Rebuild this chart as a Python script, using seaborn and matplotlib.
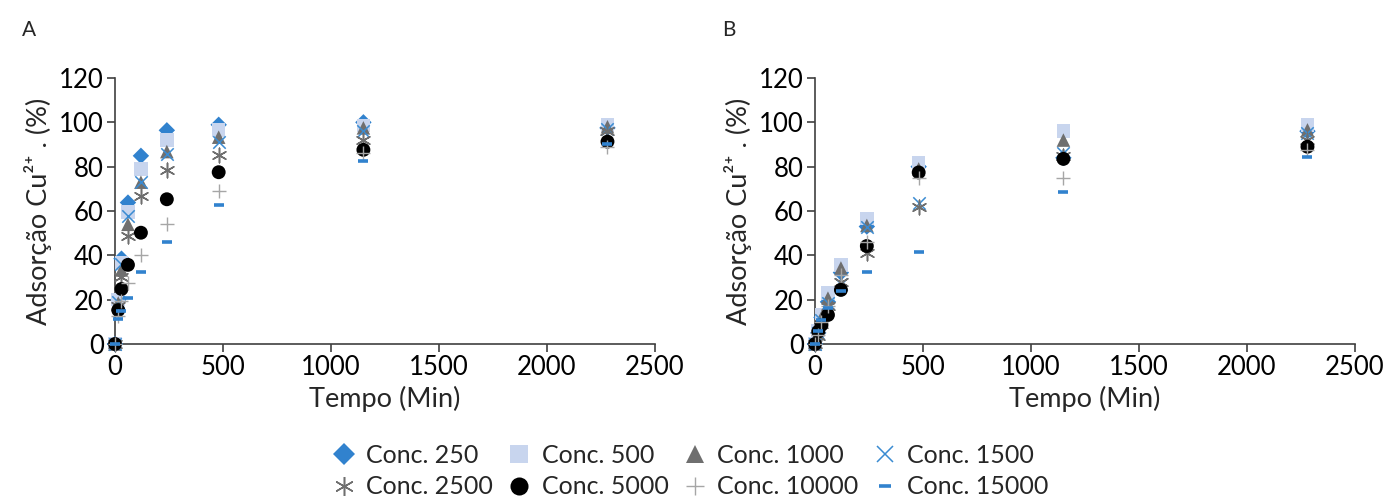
import numpy as np
import pandas as pd
import matplotlib
matplotlib.use('Agg')
import matplotlib.pyplot as plt
import seaborn as sns

# Tempo de contato (min)
tempo = [0, 15, 30, 60, 120, 240, 480, 1150, 2280]

conc_labels = ['Conc. 250', 'Conc. 500', 'Conc. 1000', 'Conc. 1500',
               'Conc. 2500', 'Conc. 5000', 'Conc. 10000', 'Conc. 15000']

# Panel A - adsorcao (%)
a_250 = [0, 20, 38.5, 63.8, 84.9, 96.4, 98.9, 100, 97.5]
a_500 = [0, 20, 36.5, 59.5, 79, 92, 96.6, 98.5, 98.9]
a_1000 = [0, 18.5, 33.4, 54, 73, 86.8, 93.3, 97.5, 98]
a_1500 = [0, 19, 36, 57.6, 73.3, 85.6, 91, 96, 97]
a_2500 = [0, 17, 30.4, 48.5, 66.7, 78.5, 85.3, 92, 96]
a_5000 = [0, 15.3, 24.8, 35.7, 50.2, 65.3, 77.5, 87.6, 91.3]
a_10000 = [0, 12.6, 19.5, 27.7, 40, 54, 68.8, 86, 89]
a_15000 = [0, 11.3, 15, 20.8, 32.5, 45.9, 62.6, 82.5, 90]

# Panel B - adsorcao (%)
b_250 = [0, 5, 12, 19, 32.2, 53, 80, 84, 96]
b_500 = [0, 6, 13, 22.9, 35.7, 56.7, 81.6, 96, 98.9]
b_1000 = [0, 5, 12, 20.7, 34.3, 53.5, 79, 92, 96.6]
b_1500 = [0, 5, 11, 18.5, 27, 53, 63.5, 86, 95]
b_2500 = [0, 3.5, 9, 17, 28, 41.2, 62, 85, 92]
b_5000 = [0, 5.6, 8.6, 13.1, 24.4, 44.2, 77.4, 83.5, 89]
b_10000 = [0, 4, 10, 17, 31, 46.2, 74.8, 75, 87.6]
b_15000 = [0, 6, 10.8, 16.1, 24, 32.6, 41.4, 68.6, 84.3]

panel_a = [a_250, a_500, a_1000, a_1500, a_2500, a_5000, a_10000, a_15000]
panel_b = [b_250, b_500, b_1000, b_1500, b_2500, b_5000, b_10000, b_15000]

# marker styles per series: (marker, color, size, filled, linewidth)
styles = [
    ('D', '#3182CE', 70, True, 0),
    ('s', '#C8D5EE', 95, True, 0),
    ('^', '#6F6F6F', 95, True, 0),
    ('x', '#3A8BD2', 80, False, 1.1),
    ((6, 2, 0), '#6F6F6F', 110, False, 1.1),
    ('o', '#000000', 100, True, 0),
    ('+', '#A6A6A6', 90, False, 1.0),
    ('_', '#3182CE', 45, False, 2.6),
]

sns.set_style('ticks')
plt.rcParams['font.family'] = ['Lato', 'DejaVu Sans']

fig = plt.figure(figsize=(13.89, 5.01), dpi=100)
ax_a = fig.add_axes([115 / 1389, 157 / 501, 540 / 1389, 266 / 501])
ax_b = fig.add_axes([815 / 1389, 157 / 501, 540 / 1389, 266 / 501])

for ax, panel in [(ax_a, panel_a), (ax_b, panel_b)]:
    for i, vals in enumerate(panel):
        m, c, s, filled, lw = styles[i]
        df = pd.DataFrame({'Tempo': tempo, 'Ads': vals})
        if filled:
            sns.scatterplot(data=df, x='Tempo', y='Ads', ax=ax, marker=m, color=c,
                            s=s, linewidth=0, edgecolor='none', clip_on=False, zorder=3)
        else:
            sns.scatterplot(data=df, x='Tempo', y='Ads', ax=ax, marker=m, color=c,
                            s=s, linewidth=lw, edgecolor=c, clip_on=False, zorder=3)
    ax.set_xlim(0, 2500)
    ax.set_ylim(0, 120)
    ax.set_xticks(np.arange(0, 2501, 500))
    ax.set_yticks(np.arange(0, 121, 20))
    sns.despine(ax=ax)
    for sp in ['left', 'bottom']:
        ax.spines[sp].set_color('#3F3F3F')
        ax.spines[sp].set_linewidth(1.2)
    ax.tick_params(axis='both', direction='out', length=6, width=1.2, color='#3F3F3F',
                   labelsize=18.5, labelcolor='black', pad=2)
    ax.set_xlabel('Tempo (Min)', fontsize=19.5, labelpad=4)
    ax.set_ylabel('Adsorção Cu²⁺ . (%)', fontsize=19.5, labelpad=5)

fig.text(22 / 1389, 1 - 30 / 501, 'A', fontsize=15, ha='left', va='center')
fig.text(722 / 1389, 1 - 30 / 501, 'B', fontsize=15, ha='left', va='center')

# legend handles
handles = []
for i, lab in enumerate(conc_labels):
    m, c, s, filled, lw = styles[i]
    h = plt.Line2D([], [], linestyle='none', marker=m, color=c,
                   markersize=np.sqrt(s) * 1.3, markeredgewidth=lw if not filled else 0)
    handles.append(h)

order = [0, 4, 1, 5, 2, 6, 3, 7]
fig.legend([handles[i] for i in order], [conc_labels[i] for i in order],
           loc='center', bbox_to_anchor=(690 / 1389, 1 - 471 / 501), ncol=4,
           frameon=False, fontsize=18, handlelength=1.0, handletextpad=0.4,
           columnspacing=0.55, labelspacing=0.35)

fig.savefig('out.png', dpi=100)
